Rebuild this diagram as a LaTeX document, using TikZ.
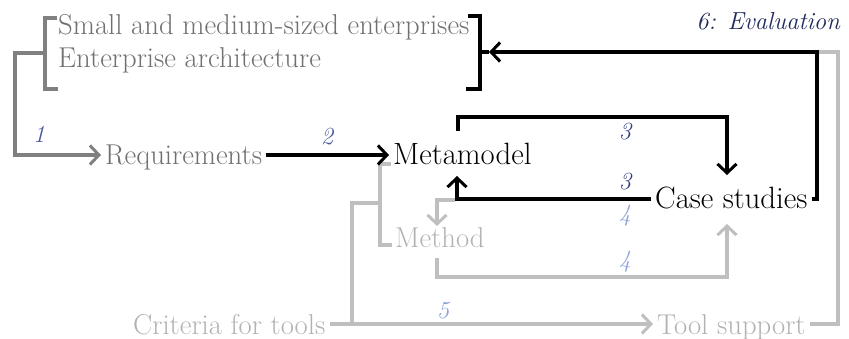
\documentclass[tikz,border=0pt]{standalone}
\usepackage{fontspec}
\usetikzlibrary{arrows.meta}
\definecolor{midgray}{RGB}{128,128,128}
\definecolor{palegray}{RGB}{191,191,191}
\definecolor{midtext}{RGB}{112,112,112}
\definecolor{paletext}{RGB}{178,178,178}
\definecolor{numblue}{RGB}{75,90,160}
\definecolor{numnavy}{RGB}{45,58,125}
\definecolor{numpale}{RGB}{142,162,216}
\definecolor{evalnavy}{RGB}{30,40,90}
\tikzset{
  barb/.tip={Straight Barb[length=9pt,width=19pt,line width=3pt]},
  txt/.style={inner sep=0pt, inner xsep=4pt, text height=21pt, text depth=1pt, anchor=base west},
  graytxt/.style={txt, text=midtext, font=\rmfamily\fontsize{28.7}{33}\selectfont},
  paletxt/.style={txt, text=paletext, font=\rmfamily\fontsize{28.7}{33}\selectfont},
  blacktxt/.style={txt, text=black, font=\rmfamily\fontsize{30.8}{34}\selectfont},
  numlab/.style={inner sep=0pt, anchor=base, font=\rmfamily\fontsize{24.6}{28}\selectfont\itshape},
  blkline/.style={draw=black, line width=3.3pt},
  midline/.style={draw=midgray, line width=3.2pt},
  paleline/.style={draw=palegray, line width=3.2pt},
}
\begin{document}
\begin{tikzpicture}[x=1pt,y=-1pt]
\path[use as bounding box] (0,0) rectangle (849,339);

% text blocks
\node[graytxt] (sme) at (54,35) {Small and medium-sized enterprises};
\node[graytxt] (ea) at (54,68) {Enterprise architecture};
\node[graytxt] (req) at (101,165) {Requirements};
\node[blacktxt] (meta) at (389,165) {Metamodel};
\node[blacktxt] (cs) at (651,209) {Case studies};
\node[paletxt] (method) at (391,248) {Method};
\node[paletxt] (crit) at (129,334) {Criteria for tools};
\node[paletxt] (tool) at (653,334) {Tool support};
\node[numlab, text=evalnavy, anchor=base east] (evall) at (840,30) {6: Evaluation};

% step numbers
\node[numlab, text=numblue] (n1) at (39,143) {1};
\node[numlab, text=numblue] (n2) at (327,145) {2};
\node[numlab, text=numnavy] (n3a) at (625,140) {3};
\node[numlab, text=numnavy] (n3b) at (625,190) {3};
\node[numlab, text=numpale] (n4a) at (625,222) {4};
\node[numlab, text=numpale] (n4b) at (625,268) {4};
\node[numlab, text=numpale] (n5) at (443,318) {5};

% bend points
\coordinate (lbt) at (57,18);
\coordinate (lbtc) at (45,18);
\coordinate (lbbc) at (45,89);
\coordinate (lbb) at (58,89);
\coordinate (lbm) at (45,53);
\coordinate (lbo) at (15,53);
\coordinate (rbt) at (468,16);
\coordinate (rbtc) at (480,16);
\coordinate (rbbc) at (480,89);
\coordinate (rbb) at (466,89);
\coordinate (rbm) at (480,52);
\coordinate (rbtip) at (489,52);
\coordinate (evc) at (817,52);
\coordinate (evg) at (838,52);
\coordinate (m3s) at (458,131);
\coordinate (m3t) at (458,117);
\coordinate (m3e) at (727,175);
\coordinate (c3v) at (457,176);
\coordinate (g4s) at (455,200);
\coordinate (g4c) at (437,200);
\coordinate (g4e) at (437,226);
\coordinate (h4s) at (437,258);
\coordinate (h4c) at (437,277);
\coordinate (h4e) at (727,224);
\coordinate (gbt) at (391,164);
\coordinate (gbtc) at (380,164);
\coordinate (gbbc) at (380,245);
\coordinate (gbb) at (392,245);
\coordinate (gbm) at (380,203);
\coordinate (gbo) at (352,203);

% pale connectors (drawn first, underneath)
\draw[paleline] (gbt) -- (gbtc) -- (gbbc) -- (gbb);
\draw[paleline] (gbm) -- (gbo) -- (gbo |- crit.east);
\draw[paleline, -{barb}] (crit.east) -- (tool.west);
\draw[paleline, -{barb}] (g4s) -- (g4c) -- (g4e);
\draw[paleline, -{barb}] (h4s) -- (h4c) -| (h4e);
\draw[paleline] (evc) -- (evg) |- (tool.east);

% dark gray bracket and step 1
\draw[midline] (lbt) -- (lbtc) -- (lbbc) -- (lbb);
\draw[midline, -{barb}] (lbm) -- (lbo) |- (req.west);

% black connectors
\draw[blkline, -{barb}] (req.east) -- (meta.west);
\draw[blkline, -{barb}] (m3s) -- (m3t) -| (m3e);
\draw[blkline, -{barb}] (cs.west) -- (cs.west -| c3v) -- (c3v);
\draw[blkline] (rbt) -- (rbtc) -- (rbbc) -- (rbb);
\draw[blkline] (rbm) -- (rbtip);
\draw[blkline, -{barb}] (cs.east) -| (evc) -- (rbtip);
\end{tikzpicture}
\end{document}
